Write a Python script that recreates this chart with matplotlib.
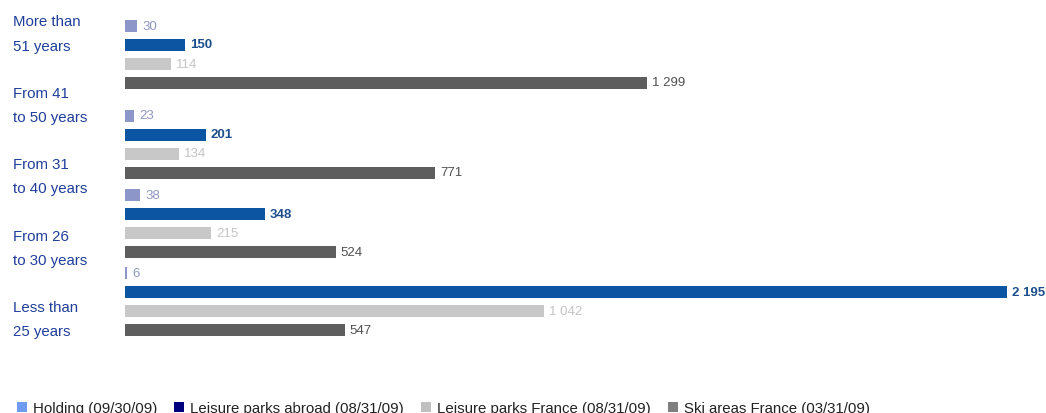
import matplotlib
matplotlib.use("Agg")
import matplotlib.pyplot as plt
from matplotlib.patches import Patch

plt.rcParams['font.family'] = ['Liberation Sans', 'DejaVu Sans']

# ---- data ----
categories = ["More than\n51 years", "From 41\nto 50 years", "From 31\nto 40 years",
              "From 26\nto 30 years", "Less than\n25 years"]
series_names = ["Holding (09/30/09)", "Leisure parks abroad (08/31/09)",
                "Leisure parks France (08/31/09)", "Ski areas France (03/31/09)"]
holding = [30, 23, 38, 6]
parks_abroad = [150, 201, 348, 2195]
parks_france = [114, 134, 215, 1042]
ski_france = [1299, 771, 524, 547]

# ---- styles ----
bar_colors = ["#8c96c8", "#0b55a2", "#c8c8c8", "#5e5e5e"]
label_colors = ["#9096c4", "#1d4f8c", "#c4c4c4", "#505050"]
label_weights = ["normal", "bold", "normal", "normal"]
legend_colors = ["#6f9cf0", "#00007f", "#c0c0c0", "#7f7f7f"]
cat_color = "#1f3f9a"

W, H = 1046, 414
fig = plt.figure(figsize=(W / 100, H / 100), dpi=100)
x0 = 125
ax = fig.add_axes([x0 / W, 0, (W - x0) / W, 1])
px_per_unit = 0.402
xmax = (W - x0) / px_per_unit
ax.set_xlim(0, xmax)
ax.set_ylim(H, 0)
ax.axis("off")

group_starts = [26.5, 116.5, 196, 274]
step = 19
bar_h = 12
all_series = [holding, parks_abroad, parks_france, ski_france]
for s, vals in enumerate(all_series):
    ys = [g + s * step for g in group_starts]
    ax.barh(ys, vals, height=bar_h, color=bar_colors[s], edgecolor="none")
    for y, v in zip(ys, vals):
        txt = f"{v:,}".replace(",", " ")
        ax.text(v + 5 / px_per_unit, y, txt, va="center", ha="left",
                fontsize=9.5, color=label_colors[s], fontweight=label_weights[s])

# category labels
for i, cat in enumerate(categories):
    lines = cat.split("\n")
    top = 22.5 + i * 71.5
    for j, line in enumerate(lines):
        fig.text(13 / W, 1 - (top + j * 24) / H, line, ha="left", va="center",
                 fontsize=10.8, color=cat_color)

handles = [Patch(facecolor=c, edgecolor="none") for c in legend_colors]
fig.legend(handles, series_names, loc="center left",
           bbox_to_anchor=(17 / W, 1 - 409 / H), ncol=4, frameon=False,
           fontsize=10.8, handlelength=0.65, handleheight=0.65, handletextpad=0.4,
           columnspacing=1.15, borderpad=0, borderaxespad=0,
           labelcolor="#222222")

fig.savefig("out.png", dpi=100)
